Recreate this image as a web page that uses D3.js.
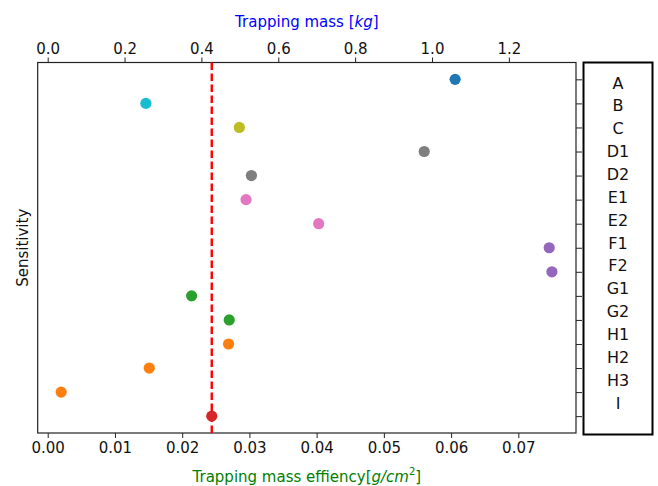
<!DOCTYPE html>
<html>
<head>
<meta charset="utf-8">
<script src="https://cdn.jsdelivr.net/npm/d3@7"></script>
<style>
  html, body { margin: 0; padding: 0; background: #fff; }
  svg { display: block; }
  text { font-family: "DejaVu Sans", sans-serif; }
</style>
</head>
<body>
<div id="chart"></div>
<script>
// Cases, in plotting order from top to bottom
const cases = ["A", "B", "C", "D1", "D2", "E1", "E2", "F1", "F2", "G1", "G2", "H1", "H2", "H3", "I"];
// Trapping mass efficiency per case [g/cm^2]
const efficiency = [0.0606, 0.0146, 0.0285, 0.0560, 0.0303, 0.0295, 0.0403, 0.0746, 0.0750,
                    0.0214, 0.0270, 0.0269, 0.0151, 0.0020, 0.0244];
// Colour group of each case
const groups = ["A", "B", "C", "D", "D", "E", "E", "F", "F", "G", "G", "H", "H", "H", "I"];
const groupNames = ["A", "B", "C", "D", "E", "F", "G", "H", "I"];
const groupColors = ["#1f77b4", "#17becf", "#bcbd22", "#7f7f7f", "#e377c2", "#9467bd", "#2ca02c", "#ff7f0e", "#d62728"];
// Reference efficiency (dashed line)
const threshold = 0.0244;
// Tick values
const effTicks = [0.00, 0.01, 0.02, 0.03, 0.04, 0.05, 0.06, 0.07];
const massTicks = [0.0, 0.2, 0.4, 0.6, 0.8, 1.0, 1.2];

const W = 658, H = 486;
const plot = { left: 37.7, right: 576, top: 62.5, bottom: 433 };
const legendBox = { left: 583.5, right: 652.5, top: 62.5, bottom: 434.5 };

const svg = d3.select("#chart").append("svg")
  .attr("width", W).attr("height", H);

const x = d3.scaleLinear().domain([-0.00149, 0.07858]).range([plot.left, plot.right]);
const xMass = d3.scaleLinear().domain([-0.026, 1.3747]).range([plot.left, plot.right]);
const y = d3.scalePoint().domain(cases).range([plot.top, plot.bottom]).padding(0.7);
const color = d3.scaleOrdinal().domain(groupNames).range(groupColors);

// Bottom axis: efficiency
const bottomAxis = svg.append("g")
  .attr("transform", `translate(0,${plot.bottom})`)
  .call(d3.axisBottom(x).tickValues(effTicks).tickFormat(d3.format(".2f")).tickSize(5).tickPadding(4));
// Top axis: mass
const topAxis = svg.append("g")
  .attr("transform", `translate(0,${plot.top})`)
  .call(d3.axisTop(xMass).tickValues(massTicks).tickFormat(d3.format(".1f")).tickSize(5).tickPadding(4));
// Right axis: one tick per case, no labels
const rightAxis = svg.append("g")
  .attr("transform", `translate(${plot.right},0)`)
  .call(d3.axisRight(y).tickSize(6).tickFormat(""));

[bottomAxis, topAxis, rightAxis].forEach(g => {
  g.select(".domain").remove();
  g.selectAll(".tick line").attr("stroke", "#222").attr("stroke-width", 1);
  g.selectAll(".tick text").attr("font-size", 15).attr("fill", "#111")
    .attr("font-family", "DejaVu Sans, sans-serif");
});

// Plot frame
svg.append("rect")
  .attr("x", plot.left).attr("y", plot.top)
  .attr("width", plot.right - plot.left).attr("height", plot.bottom - plot.top)
  .attr("fill", "none").attr("stroke", "#222").attr("stroke-width", 1.2);

// Dashed reference line
svg.append("line")
  .attr("x1", x(threshold)).attr("x2", x(threshold))
  .attr("y1", plot.top).attr("y2", plot.bottom)
  .attr("stroke", "#ff0000").attr("stroke-width", 2.4)
  .attr("stroke-dasharray", "7.5,3.5");

// Points
svg.append("g").selectAll("circle")
  .data(cases)
  .join("circle")
  .attr("cx", (d, i) => x(efficiency[i]))
  .attr("cy", d => y(d))
  .attr("r", 5.6)
  .attr("fill", (d, i) => color(groups[i]));

// Case label box
svg.append("rect")
  .attr("x", legendBox.left).attr("y", legendBox.top)
  .attr("width", legendBox.right - legendBox.left).attr("height", legendBox.bottom - legendBox.top)
  .attr("fill", "#fff").attr("stroke", "#000").attr("stroke-width", 2);

const yLabel = d3.scalePoint().domain(cases).range([83, 403]);
svg.append("g").selectAll("text")
  .data(cases)
  .join("text")
  .attr("x", (legendBox.left + legendBox.right) / 2)
  .attr("y", d => yLabel(d))
  .attr("text-anchor", "middle")
  .attr("dominant-baseline", "central")
  .attr("font-family", "Liberation Sans, Arial, sans-serif")
  .attr("font-size", 16)
  .attr("fill", "#111")
  .text(d => d);

// Axis titles
const cx = (plot.left + plot.right) / 2;
const topTitle = svg.append("text")
  .attr("x", cx).attr("y", 22)
  .attr("text-anchor", "middle").attr("dominant-baseline", "central")
  .attr("font-size", 15).attr("fill", "#0000ff");
topTitle.append("tspan").text("Trapping mass [");
topTitle.append("tspan").attr("font-style", "italic").text("kg");
topTitle.append("tspan").text("]");

const bottomTitle = svg.append("text")
  .attr("x", cx).attr("y", 477)
  .attr("text-anchor", "middle").attr("dominant-baseline", "central")
  .attr("font-size", 15).attr("fill", "#008000");
bottomTitle.append("tspan").text("Trapping mass effiency[");
bottomTitle.append("tspan").attr("font-style", "italic").text("g/cm");
bottomTitle.append("tspan").attr("font-size", 10).attr("dy", -6).text("2");
bottomTitle.append("tspan").attr("dy", 6).text("]");

svg.append("text")
  .attr("transform", `translate(23,${(plot.top + plot.bottom) / 2}) rotate(-90)`)
  .attr("text-anchor", "middle").attr("dominant-baseline", "central")
  .attr("font-size", 15).attr("fill", "#111")
  .text("Sensitivity");
</script>
</body>
</html>
